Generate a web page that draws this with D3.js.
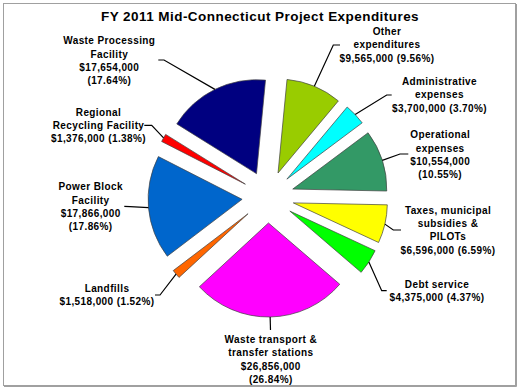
<!DOCTYPE html>
<html>
<head>
<meta charset="utf-8">
<script src="https://cdn.jsdelivr.net/npm/d3@7"></script>
<style>
  body { margin: 0; background: #fff; }
  svg { display: block; }
  .lbl { font-family: Arial, "Liberation Sans", sans-serif; font-weight: bold; font-size: 10px; letter-spacing: 0.4px; fill: #000; }
</style>
</head>
<body>
<svg id="chart" width="520" height="390"></svg>
<script>
// data, clockwise from the first slice
const categories = [
    "Other\nexpenditures",
    "Administrative\nexpenses",
    "Operational\nexpenses",
    "Taxes, municipal\nsubsidies &\nPILOTs",
    "Debt service",
    "Waste transport &\ntransfer stations",
    "Landfills",
    "Power Block\nFacility",
    "Regional\nRecycling Facility",
    "Waste Processing\nFacility"
];
const amounts = [9565000, 3700000, 10554000, 6596000, 4375000, 26856000, 1518000, 17866000, 1376000, 17654000];
const percents = [9.56, 3.70, 10.55, 6.59, 4.37, 26.84, 1.52, 17.86, 1.38, 17.64];
const colors = ["#99cc00", "#00ffff", "#339966", "#ffff00", "#00ff00", "#ff00ff", "#ff6600", "#0066cc", "#ff0000", "#000080"];

// label layout: x centre, y of first line centre, whether $ and % share a line, leader end + elbow
const labelLayout = [
    { x: 387, y: 31.3, join: true,  p1: [340, 45],    p2: [333.3, 45] },
    { x: 439.5, y: 81.3, join: true,  p1: [391.7, 95],  p2: [386.7, 95] },
    { x: 440.2, y: 134.7, join: false, p1: [408.3, 154], p2: [400, 154] },
    { x: 448, y: 210, join: true,  p1: [401, 230],   p2: [393.3, 230] },
    { x: 437, y: 284, join: true,  p1: [386.7, 290.7], p2: [381.7, 290.7] },
    { x: 270.8, y: 339.3, join: false, p1: [270.5, 330], p2: [270.5, 330] },
    { x: 107, y: 288, join: true,  p1: [155, 295],   p2: [160, 295] },
    { x: 90.7, y: 186.7, join: false, p1: [124.3, 206.3], p2: [130, 206.6] },
    { x: 98.5, y: 112, join: true,  p1: [144.3, 125.3], p2: [151.7, 125.3] },
    { x: 109.3, y: 40.7, join: false, p1: [158.3, 60],  p2: [164, 60] }
];

const width = 520, height = 390;
const cx = 268, cy = 197, radius = 94, explode = 26, lineH = 13.3;
const startDeg = 5.5;

const svg = d3.select("#chart");

svg.append("rect")
    .attr("x", 3.5).attr("y", 3.5)
    .attr("width", 512).attr("height", 382)
    .attr("fill", "#fff")
    .attr("stroke", "#a0a0a0")
    .attr("stroke-width", 1);
// shadow on right/bottom edge
svg.append("path")
    .attr("d", `M516.5,4 V386.5 H4`)
    .attr("fill", "none")
    .attr("stroke", "#a0a0a0")
    .attr("stroke-width", 1);

svg.append("text")
    .attr("x", width / 2)
    .attr("y", 20.5)
    .attr("text-anchor", "middle")
    .style("font-family", "Arial, 'Liberation Sans', sans-serif")
    .style("font-weight", "bold")
    .style("font-size", "13.5px")
    .style("letter-spacing", "0.45px")
    .text("FY 2011 Mid-Connecticut Project Expenditures");

const slices = categories.map((c, i) => ({ name: c, value: amounts[i], pct: percents[i], color: colors[i], layout: labelLayout[i] }));

const start = startDeg * Math.PI / 180;
const pie = d3.pie().sort(null).value(d => d.value)
    .startAngle(start).endAngle(start + 2 * Math.PI);
const arcs = pie(slices);

const arc = d3.arc().innerRadius(0).outerRadius(radius);

const mid = d => (d.startAngle + d.endAngle) / 2;
const shift = d => [Math.sin(mid(d)) * explode, -Math.cos(mid(d)) * explode];

const g = svg.append("g").attr("transform", `translate(${cx},${cy})`);

g.selectAll("path.slice")
    .data(arcs)
    .join("path")
    .attr("class", "slice")
    .attr("transform", d => `translate(${shift(d)})`)
    .attr("d", arc)
    .attr("fill", d => d.data.color)
    .attr("stroke", "#404040")
    .attr("stroke-width", 0.7);

// leader lines: label -> elbow -> outer edge of slice
const fmt = d3.format(",");
arcs.forEach(d => {
    const s = shift(d);
    const a = mid(d);
    const px = cx + s[0] + Math.sin(a) * radius;
    const py = cy + s[1] - Math.cos(a) * radius;
    const L = d.data.layout;
    svg.append("path")
        .attr("d", d3.line()([L.p1, L.p2, [px, py]]))
        .attr("fill", "none")
        .attr("stroke", "#000")
        .attr("stroke-width", 1.2);

    const lines = d.data.name.split("\n");
    const money = "$" + fmt(d.data.value);
    const pct = "(" + d.data.pct.toFixed(2) + "%)";
    if (L.join) lines.push(money + " " + pct);
    else lines.push(money, pct);

    const t = svg.append("text")
        .attr("class", "lbl")
        .attr("text-anchor", "middle");
    lines.forEach((ln, k) => {
        t.append("tspan")
            .attr("x", L.x)
            .attr("y", L.y + k * lineH + 3.6)
            .text(ln);
    });
});
</script>
</body>
</html>
